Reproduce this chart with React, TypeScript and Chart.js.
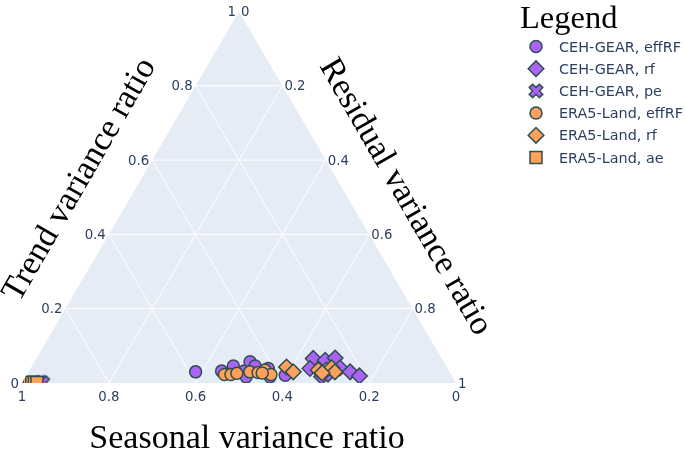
import React, { useEffect, useRef } from 'react';
import { Chart, registerables } from 'chart.js';

Chart.register(...registerables);

// ---- Data (ternary components: trend, seasonal, residual variance ratios) ----
const cehEffRF_trend = [0.030, 0.032, 0.046, 0.032, 0.057, 0.017, 0.046, 0.039, 0.017, 0.021, 0.029];
const cehEffRF_seasonal = [0.585, 0.524, 0.490, 0.472, 0.446, 0.475, 0.440, 0.413, 0.420, 0.383, 0.432];
const cehEffRF_residual = [0.385, 0.444, 0.464, 0.496, 0.497, 0.508, 0.514, 0.548, 0.563, 0.596, 0.539];

const cehRf_trend = [0.066, 0.061, 0.067, 0.039, 0.017, 0.041, 0.030, 0.019, 0.024];
const cehRf_seasonal = [0.296, 0.271, 0.245, 0.317, 0.301, 0.247, 0.229, 0.213, 0.283];
const cehRf_residual = [0.638, 0.668, 0.688, 0.644, 0.682, 0.712, 0.741, 0.768, 0.693];

const cehPe_trend = [0.001, 0.001, 0.001];
const cehPe_seasonal = [0.959, 0.955, 0.952];
const cehPe_residual = [0.040, 0.044, 0.047];

const eraEffRF_trend = [0.023, 0.023, 0.026, 0.030, 0.028, 0.035, 0.023, 0.027];
const eraEffRF_seasonal = [0.522, 0.507, 0.492, 0.460, 0.442, 0.423, 0.415, 0.433];
const eraEffRF_residual = [0.455, 0.470, 0.482, 0.510, 0.530, 0.542, 0.562, 0.540];

const eraRf_trend = [0.043, 0.030, 0.035, 0.035, 0.041, 0.030, 0.027];
const eraRf_seasonal = [0.369, 0.360, 0.300, 0.281, 0.266, 0.264, 0.295];
const eraRf_residual = [0.588, 0.610, 0.665, 0.684, 0.693, 0.706, 0.678];

const eraAe_trend = [0.001, 0.001, 0.001, 0.001, 0.001];
const eraAe_seasonal = [0.989, 0.983, 0.977, 0.971, 0.965];
const eraAe_residual = [0.010, 0.016, 0.022, 0.028, 0.034];

const seriesNames = [
  'CEH-GEAR, effRF',
  'CEH-GEAR, rf',
  'CEH-GEAR, pe',
  'ERA5-Land, effRF',
  'ERA5-Land, rf',
  'ERA5-Land, ae',
];
const tickValues = [0, 0.2, 0.4, 0.6, 0.8, 1];
const tickLabels = ['0', '0.2', '0.4', '0.6', '0.8', '1'];
const gridValues = [0.2, 0.4, 0.6, 0.8];

const axisTitleA = 'Trend variance ratio';
const axisTitleB = 'Seasonal variance ratio';
const axisTitleC = 'Residual variance ratio';
const legendTitle = 'Legend';

// ---- Styles ----
const PURPLE = '#ab63fa';
const ORANGE = '#FFA15A';
const OUTLINE = '#2F4F4F';
const BG = '#E5ECF6';
const TICK_COLOR = '#2a3f5f';
const TICK_FONT = '13.3px "DejaVu Sans", Verdana, sans-serif';
const LEGEND_FONT = '14.4px "DejaVu Sans", Verdana, sans-serif';
const TITLE_FONT = '34px "Liberation Serif", "Times New Roman", serif';
const LEGEND_TITLE_FONT = '32.5px "Liberation Serif", "Times New Roman", serif';
const SQ = Math.sqrt(3) / 2;

const toXY = (t: number, s: number, r: number) => {
  const sum = t + s + r;
  const tt = t / sum;
  const rr = r / sum;
  return { x: rr + tt / 2, y: tt * SQ };
};

const buildPoints = (t: number[], s: number[], r: number[]) =>
  t.map((_, i) => toXY(t[i], s[i], r[i]));

function makeXCanvas(color: string): HTMLCanvasElement {
  const c = document.createElement('canvas');
  c.width = 20;
  c.height = 20;
  const g = c.getContext('2d')!;
  const k = (6 * 0.8) / Math.SQRT2;
  const cx = 10, cy = 10;
  const pts: [number, number][] = [
    [0, -k], [k, -2 * k], [2 * k, -k], [k, 0], [2 * k, k], [k, 2 * k],
    [0, k], [-k, 2 * k], [-2 * k, k], [-k, 0], [-2 * k, -k], [-k, -2 * k],
  ];
  g.beginPath();
  pts.forEach(([x, y], i) => (i === 0 ? g.moveTo(cx + x, cy + y) : g.lineTo(cx + x, cy + y)));
  g.closePath();
  g.fillStyle = color;
  g.fill();
  g.lineWidth = 1.5;
  g.strokeStyle = OUTLINE;
  g.stroke();
  return c;
}

function drawMarker(ctx: CanvasRenderingContext2D, kind: string, x: number, y: number, color: string, xImg?: HTMLCanvasElement) {
  ctx.save();
  ctx.fillStyle = color;
  ctx.strokeStyle = OUTLINE;
  ctx.lineWidth = 1.5;
  ctx.beginPath();
  if (kind === 'circle') {
    ctx.arc(x, y, 6, 0, Math.PI * 2);
  } else if (kind === 'diamond') {
    const r = 7.8;
    ctx.moveTo(x - r, y);
    ctx.lineTo(x, y - r);
    ctx.lineTo(x + r, y);
    ctx.lineTo(x, y + r);
    ctx.closePath();
  } else if (kind === 'square') {
    ctx.rect(x - 6, y - 6, 12, 12);
  } else if (kind === 'x' && xImg) {
    ctx.drawImage(xImg, x - 10, y - 10);
    ctx.restore();
    return;
  }
  ctx.fill();
  ctx.stroke();
  ctx.restore();
}

export default function App() {
  const canvasRef = useRef<HTMLCanvasElement | null>(null);

  useEffect(() => {
    const canvas = canvasRef.current;
    if (!canvas) return;
    const xImg = makeXCanvas(PURPLE);

    const kinds = ['circle', 'diamond', 'x', 'circle', 'diamond', 'square'];
    const colors = [PURPLE, PURPLE, PURPLE, ORANGE, ORANGE, ORANGE];
    const dataSets = [
      buildPoints(cehEffRF_trend, cehEffRF_seasonal, cehEffRF_residual),
      buildPoints(cehRf_trend, cehRf_seasonal, cehRf_residual),
      buildPoints(cehPe_trend, cehPe_seasonal, cehPe_residual),
      buildPoints(eraEffRF_trend, eraEffRF_seasonal, eraEffRF_residual),
      buildPoints(eraRf_trend, eraRf_seasonal, eraRf_residual),
      buildPoints(eraAe_trend, eraAe_seasonal, eraAe_residual),
    ];
    const styleFor = (k: string): any => {
      if (k === 'circle') return { pointStyle: 'circle', pointRadius: 6 };
      if (k === 'diamond') return { pointStyle: 'rectRot', pointRadius: 7.8 };
      if (k === 'square') return { pointStyle: 'rect', pointRadius: 8.5 };
      return { pointStyle: xImg, pointRadius: 10 };
    };

    const ternaryPlugin = {
      id: 'ternary',
      beforeDatasetsDraw(chart: any) {
        const { ctx } = chart;
        const xs = chart.scales.x, ys = chart.scales.y;
        const P = (t: number, s: number, r: number): [number, number] => {
          const p = toXY(t, s, r);
          return [xs.getPixelForValue(p.x), ys.getPixelForValue(p.y)];
        };
        const A = P(1, 0, 0), B = P(0, 1, 0), C = P(0, 0, 1);
        ctx.save();
        ctx.beginPath();
        ctx.moveTo(A[0], A[1]);
        ctx.lineTo(B[0], B[1]);
        ctx.lineTo(C[0], C[1]);
        ctx.closePath();
        ctx.fillStyle = BG;
        ctx.fill();
        ctx.strokeStyle = '#ffffff';
        ctx.lineWidth = 1;
        const line = (p: [number, number], q: [number, number]) => {
          ctx.beginPath();
          ctx.moveTo(p[0], p[1]);
          ctx.lineTo(q[0], q[1]);
          ctx.stroke();
        };
        for (const v of gridValues) {
          line(P(v, 1 - v, 0), P(v, 0, 1 - v));
          line(P(0, v, 1 - v), P(1 - v, v, 0));
          line(P(0, 1 - v, v), P(1 - v, 0, v));
        }
        ctx.restore();
        // clip data to triangle
        ctx.save();
        ctx.beginPath();
        ctx.moveTo(A[0], A[1]);
        ctx.lineTo(B[0], B[1]);
        ctx.lineTo(C[0], C[1]);
        ctx.closePath();
        ctx.clip();
      },
      afterDatasetsDraw(chart: any) {
        chart.ctx.restore();
      },
      afterDraw(chart: any) {
        const { ctx } = chart;
        const xs = chart.scales.x, ys = chart.scales.y;
        const P = (t: number, s: number, r: number): [number, number] => {
          const p = toXY(t, s, r);
          return [xs.getPixelForValue(p.x), ys.getPixelForValue(p.y)];
        };
        ctx.save();
        ctx.font = TICK_FONT;
        ctx.fillStyle = TICK_COLOR;
        ctx.textBaseline = 'alphabetic';
        tickValues.forEach((v, i) => {
          // trend (left edge)
          const a = P(v, 1 - v, 0);
          ctx.textAlign = 'right';
          ctx.fillText(tickLabels[i], a[0] - 3, a[1] + 4.5);
          // residual (right edge)
          const c = P(1 - v, 0, v);
          ctx.textAlign = 'left';
          ctx.fillText(tickLabels[i], c[0] + 2, c[1] + 4.5);
          // seasonal (bottom edge)
          const b = P(0, v, 1 - v);
          ctx.textAlign = 'center';
          ctx.fillText(tickLabels[i], b[0], b[1] + 18);
        });

        // Axis titles
        ctx.font = TITLE_FONT;
        ctx.fillStyle = '#000000';
        ctx.textAlign = 'center';
        ctx.textBaseline = 'alphabetic';
        const B = P(0, 1, 0), Cc = P(0, 0, 1);
        ctx.fillText(axisTitleB, (B[0] + Cc[0]) / 2 + 8, B[1] + 65);

        ctx.save();
        ctx.translate(80, 180);
        ctx.rotate(-Math.PI / 3);
        ctx.textBaseline = 'middle';
        ctx.fillText(axisTitleA, 0, 0);
        ctx.restore();

        ctx.save();
        ctx.translate(405, 197);
        ctx.rotate(Math.PI / 3);
        ctx.textBaseline = 'middle';
        ctx.fillText(axisTitleC, 0, 0);
        ctx.restore();

        // Legend
        ctx.font = LEGEND_TITLE_FONT;
        ctx.textAlign = 'left';
        ctx.textBaseline = 'alphabetic';
        ctx.fillText(legendTitle, 520, 28);
        ctx.font = LEGEND_FONT;
        seriesNames.forEach((name, i) => {
          const y = 46.5 + i * 22.2;
          drawMarker(ctx, kinds[i], 536, y, colors[i], xImg);
          ctx.fillStyle = TICK_COLOR;
          ctx.fillText(name, 559, y + 5);
        });
        ctx.restore();
      },
    };

    const chart = new Chart(canvas, {
      type: 'scatter',
      data: {
        datasets: dataSets.map((pts, i) => ({
          label: seriesNames[i],
          data: pts,
          backgroundColor: colors[i],
          borderColor: OUTLINE,
          borderWidth: 1.5,
          order: 5 - i,
          clip: false as any,
          ...styleFor(kinds[i]),
        })),
      },
      options: {
        animation: false,
        responsive: false,
        devicePixelRatio: 1,
        layout: { padding: { left: 22, right: 229, top: 7, bottom: 71 } },
        scales: {
          x: { type: 'linear', min: 0, max: 1, display: false },
          y: { type: 'linear', min: 0, max: SQ, display: false },
        },
        plugins: {
          legend: { display: false },
          tooltip: { enabled: false },
        },
        events: [],
      },
      plugins: [ternaryPlugin],
    });
    return () => chart.destroy();
  }, []);

  return (
    <div style={{ position: 'absolute', left: 0, top: 0, width: 685, height: 454, background: '#fff' }}>
      <canvas ref={canvasRef} width={685} height={454} style={{ width: 685, height: 454, display: 'block' }} />
    </div>
  );
}
